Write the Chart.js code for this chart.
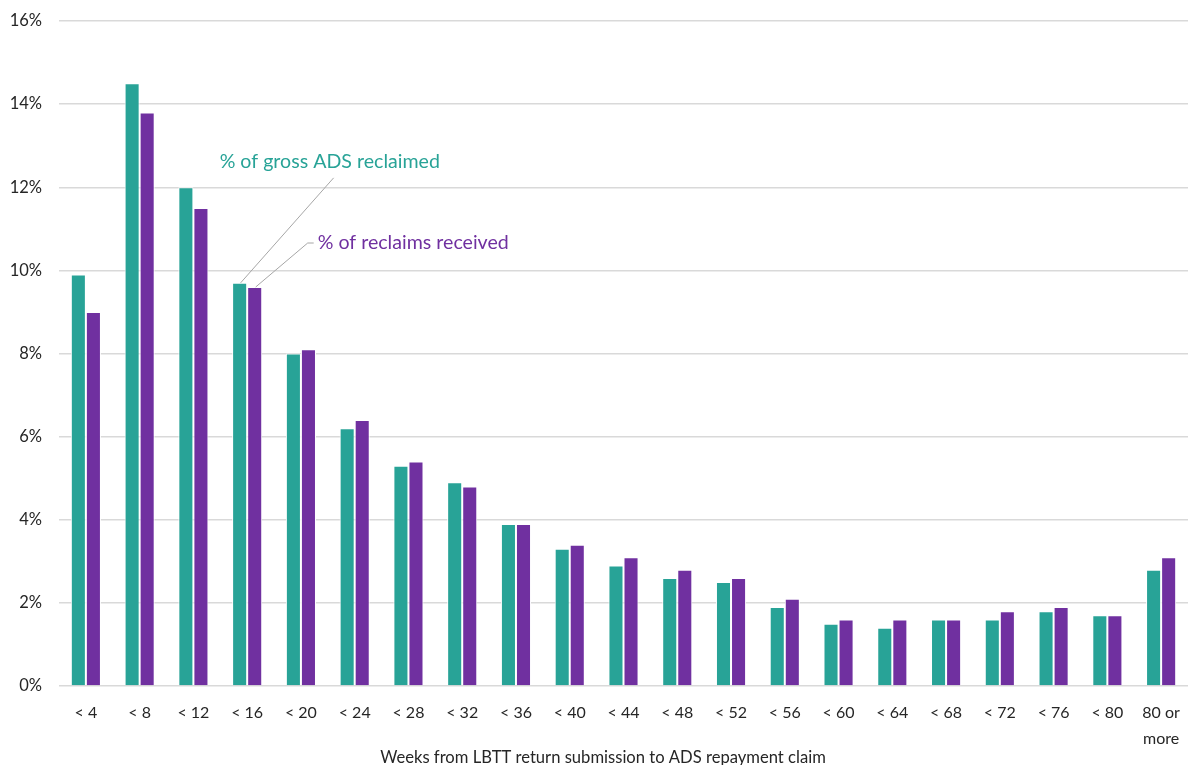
<!DOCTYPE html>
<html>
<head>
<meta charset="utf-8">
<script src="https://cdn.jsdelivr.net/npm/chart.js@4/dist/chart.umd.min.js"></script>
<style>
  html, body { margin: 0; padding: 0; background: #ffffff; }
  #wrap { width: 1188px; height: 765px; position: relative; }
</style>
</head>
<body>
<div id="wrap"><canvas id="c" width="1188" height="765"></canvas></div>
<script>
// Weeks between LBTT return submission and ADS repayment claim
const categories = ['< 4', '< 8', '< 12', '< 16', '< 20', '< 24', '< 28', '< 32', '< 36', '< 40',
  '< 44', '< 48', '< 52', '< 56', '< 60', '< 64', '< 68', '< 72', '< 76', '< 80', ['80 or', 'more']];

// Share of gross ADS reclaimed (%)
const grossReclaimed = [9.9, 14.5, 12.0, 9.7, 8.0, 6.2, 5.3, 4.9, 3.9, 3.3,
  2.9, 2.6, 2.5, 1.9, 1.5, 1.4, 1.6, 1.6, 1.8, 1.7, 2.8];

// Share of reclaims received (%)
const reclaimsReceived = [9.0, 13.8, 11.5, 9.6, 8.1, 6.4, 5.4, 4.8, 3.9, 3.4,
  3.1, 2.8, 2.6, 2.1, 1.6, 1.6, 1.6, 1.8, 1.9, 1.7, 3.1];

const yTicks = [0, 2, 4, 6, 8, 10, 12, 14, 16];

const seriesNames = ['% of gross ADS reclaimed', '% of reclaims received'];
const axisTitle = 'Weeks from LBTT return submission to ADS repayment claim';

const GREEN = '#28a397';
const PURPLE = '#7030a0';
const FONT = 'Lato, "Open Sans", sans-serif';

// Callout labels with leader lines pointing at the "< 16" bars
const calloutPlugin = {
  id: 'callouts',
  afterDatasetsDraw(chart) {
    const ctx = chart.ctx;
    const idx = 3;
    const g = chart.getDatasetMeta(0).data[idx];
    const p = chart.getDatasetMeta(1).data[idx];
    ctx.save();
    ctx.strokeStyle = '#a6a6a6';
    ctx.lineWidth = 1;
    // green leader
    ctx.beginPath();
    ctx.moveTo(g.x + 1, g.y);
    ctx.lineTo(g.x + 94, g.y - 105);
    ctx.stroke();
    // purple leader
    ctx.beginPath();
    ctx.moveTo(p.x + 1, p.y);
    ctx.lineTo(p.x + 53, p.y - 44);
    ctx.lineTo(p.x + 59, p.y - 44);
    ctx.stroke();

    ctx.font = '19.6px ' + FONT;
    ctx.textBaseline = 'middle';
    ctx.textAlign = 'left';
    ctx.fillStyle = GREEN;
    ctx.fillText(seriesNames[0], g.x - 20, g.y - 121);
    ctx.fillStyle = PURPLE;
    ctx.fillText(seriesNames[1], p.x + 63, p.y - 44);

    // horizontal axis title
    ctx.font = '16.6px ' + FONT;
    ctx.fillStyle = '#262626';
    ctx.textAlign = 'center';
    ctx.fillText(axisTitle, chart.chartArea.left + 544, chart.chartArea.bottom + 72);
    ctx.restore();
  }
};

new Chart(document.getElementById('c'), {
  type: 'bar',
  data: {
    labels: categories,
    datasets: [
      {
        label: seriesNames[0],
        data: grossReclaimed,
        backgroundColor: GREEN,
        borderColor: '#ffffff',
        borderWidth: 1,
        categoryPercentage: 0.56,
        barPercentage: 1.0
      },
      {
        label: seriesNames[1],
        data: reclaimsReceived,
        backgroundColor: PURPLE,
        borderColor: '#ffffff',
        borderWidth: 1,
        categoryPercentage: 0.56,
        barPercentage: 1.0
      }
    ]
  },
  options: {
    responsive: false,
    animation: false,
    devicePixelRatio: 1,
    layout: { padding: { top: 21, right: 0, left: 0, bottom: 0 } },
    plugins: {
      legend: { display: false },
      tooltip: { enabled: false },
      title: { display: false }
    },
    scales: {
      x: {
        grid: { display: false, drawTicks: false },
        border: { display: false },
        ticks: {
          color: '#262626',
          font: { family: FONT, size: 16, lineHeight: 1.6 },
          padding: 14,
          maxRotation: 0,
          autoSkip: false
        },
        afterFit(scale) {
          scale.height = 79;
          scale.paddingLeft = 0;
          scale.paddingRight = 0;
        }
      },
      y: {
        min: 0,
        max: 16,
        afterBuildTicks(scale) { scale.ticks = yTicks.map(v => ({ value: v })); },
        grid: { color: '#d9d9d9', lineWidth: 1.5, drawTicks: false },
        border: { display: false },
        ticks: {
          color: '#262626',
          font: { family: FONT, size: 16.5 },
          padding: 17,
          callback: v => v + '%'
        },
        afterFit(scale) {
          scale.width = 59;
          scale.paddingTop = 0;
          scale.paddingBottom = 0;
        }
      }
    }
  },
  plugins: [calloutPlugin]
});
</script>
</body>
</html>
